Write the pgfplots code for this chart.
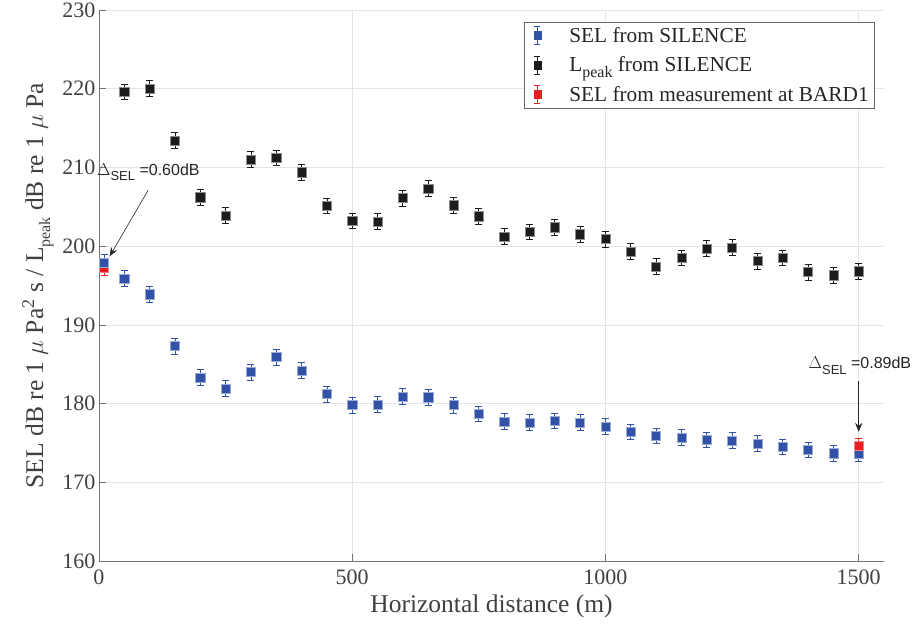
\documentclass[border=0pt]{standalone}
\usepackage{fontspec}
\setmainfont{Liberation Serif}
\newfontfamily\hv{Liberation Sans}
\usepackage{pgfplots}
\pgfplotsset{compat=1.18}
\usetikzlibrary{arrows.meta}
\definecolor{bluec}{RGB}{50,82,168}
\definecolor{blackc}{RGB}{28,28,28}
\definecolor{redc}{RGB}{236,28,36}
\definecolor{txt}{RGB}{64,64,64}
\definecolor{gridc}{RGB}{228,228,228}
\newcommand{\legimg}[1]{%
  \path[draw=none, fill=none] (0pt,-9pt) rectangle (39pt,9pt);
  \draw[#1, line width=0.8pt] (9pt,-9pt) -- (9pt,9pt);
  \draw[#1, line width=0.8pt] (6pt,-9pt) -- (12pt,-9pt);
  \draw[#1, line width=0.8pt] (6pt,9pt) -- (12pt,9pt);
  \fill[#1] (5.5pt,-4pt) rectangle (12.5pt,4pt);}
\newcommand{\subl}[1]{\raisebox{-0.6ex}{\fontsize{16}{16}\selectfont #1}}

\pgfplotstableread{
x y e
10 197.9 1.0
50 195.9 1.0
100 193.9 1.0
150 187.3 1.0
200 183.3 1.0
250 181.9 1.0
300 184.0 1.0
350 185.9 1.0
400 184.2 1.0
450 181.2 1.0
500 179.8 1.0
550 179.9 1.0
600 180.9 1.0
650 180.8 1.0
700 179.8 1.0
750 178.7 1.0
800 177.7 1.0
850 177.6 1.0
900 177.8 1.0
950 177.6 1.0
1000 177.1 1.0
1050 176.4 1.0
1100 175.9 1.0
1150 175.7 1.0
1200 175.4 1.0
1250 175.3 1.0
1300 174.9 1.0
1350 174.5 1.0
1400 174.1 1.0
1450 173.7 1.0
1500 173.7 1.0
}\seltable

\pgfplotstableread{
x y e
50 219.6 1.0
100 220.0 1.0
150 213.4 1.0
200 206.2 1.0
250 203.9 1.0
300 211.0 1.0
350 211.2 1.0
400 209.4 1.0
450 205.1 1.0
500 203.2 1.0
550 203.1 1.0
600 206.1 1.0
650 207.3 1.0
700 205.2 1.0
750 203.8 1.0
800 201.2 1.0
850 201.8 1.0
900 202.4 1.0
950 201.5 1.0
1000 200.9 1.0
1050 199.3 1.0
1100 197.4 1.0
1150 198.5 1.0
1200 199.7 1.0
1250 199.8 1.0
1300 198.1 1.0
1350 198.5 1.0
1400 196.7 1.0
1450 196.3 1.0
1500 196.8 1.0
}\lpktable

\pgfplotstableread{
x y e
10 197.3 1.0
}\redA

\pgfplotstableread{
x y e
1500 174.6 1.0
}\redB

\begin{document}
\begin{tikzpicture}
\begin{axis}[
  scale only axis,
  width=785pt, height=551pt,
  xmin=0, xmax=1550, ymin=160, ymax=230,
  xtick={0,500,1000,1500},
  ytick={160,170,...,230},
  axis lines=left,
  axis line style={-, draw=black!55, line width=0.7pt},
  tick style={draw=black!55, line width=0.7pt},
  major tick length=7pt,
  tick align=inside,
  grid=major,
  major grid style={draw=gridc, line width=0.7pt},
  /pgf/number format/assume math mode=true,
  /pgf/number format/1000 sep={},
  tick label style={font=\fontsize{22}{24}\selectfont, text=txt},
  xticklabel style={yshift=-5pt},
  label style={font=\fontsize{25.5}{28}\selectfont, text=txt},
  xlabel={Horizontal distance (m)},
  ylabel={SEL dB re 1 $\mu$ Pa\textsuperscript{2} s / L\subl{peak} dB re 1 $\mu$ Pa},
  xlabel style={yshift=-4pt},
  ylabel style={yshift=2pt},
  clip=false,
  legend style={at={(0.9885,0.978)}, anchor=north east, draw=black!60,
    line width=0.6pt, font=\fontsize{21.3}{25}\selectfont, text=black!85,
    inner xsep=4pt, inner ysep=3pt, row sep=9pt},
  legend cell align=left,
  error bars/y dir=both, error bars/y explicit,
]
% red point at 10 m (drawn beneath blue)
\addplot+[forget plot, only marks, mark=square*, mark size=4.6pt,
  mark options={fill=redc, draw=redc!55!white, line width=0.5pt},
  error bars/error bar style={draw=redc, line width=0.8pt},
  error bars/error mark options={draw=redc, rotate=90, mark size=3.5pt, line width=0.8pt}]
  table[x=x, y=y, y error=e] {\redA};
\addplot+[only marks, mark=square*, mark size=4.6pt,
  mark options={fill=bluec, draw=bluec!50!white, line width=0.5pt},
  error bars/error bar style={draw=bluec, line width=0.8pt},
  error bars/error mark options={draw=bluec, rotate=90, mark size=3.5pt, line width=0.8pt},
  legend image code/.code={\legimg{bluec}}]
  table[x=x, y=y, y error=e] {\seltable};
\addlegendentry{SEL from SILENCE}
\addplot+[only marks, mark=square*, mark size=4.6pt,
  mark options={fill=blackc, draw=black!45, line width=0.5pt},
  error bars/error bar style={draw=blackc, line width=0.8pt},
  error bars/error mark options={draw=blackc, rotate=90, mark size=3.5pt, line width=0.8pt},
  legend image code/.code={\legimg{blackc}}]
  table[x=x, y=y, y error=e] {\lpktable};
\addlegendentry{L\subl{peak} from SILENCE}
\addplot+[only marks, mark=square*, mark size=4.6pt,
  mark options={fill=redc, draw=redc!55!white, line width=0.5pt},
  error bars/error bar style={draw=redc, line width=0.8pt},
  error bars/error mark options={draw=redc, rotate=90, mark size=3.5pt, line width=0.8pt},
  legend image code/.code={\legimg{redc}}]
  table[x=x, y=y, y error=e] {\redB};
\addlegendentry{SEL from measurement at BARD1}
% annotations
\node[anchor=west, inner sep=0pt, font=\hv\fontsize{16}{18}\selectfont, text=black!85]
  at (axis cs:-4,209.4) {$\Delta$\raisebox{-0.7ex}{\fontsize{13}{13}\selectfont SEL} =0.60dB};
\draw[-{Stealth[length=9pt,width=7pt]}, line width=0.6pt, black!85]
  (axis cs:97,207.1) -- (axis cs:21,198.7);
\node[anchor=west, inner sep=0pt, font=\hv\fontsize{16}{18}\selectfont, text=black!85]
  at (axis cs:1401,184.8) {$\Delta$\raisebox{-0.7ex}{\fontsize{13}{13}\selectfont SEL} =0.89dB};
\draw[-{Stealth[length=9pt,width=7pt]}, line width=0.6pt, black!85]
  (axis cs:1500,182.9) -- (axis cs:1500,176.4);
\end{axis}
\pgfresetboundingbox
\path (-99pt,-72pt) rectangle (817pt,561pt);
\end{tikzpicture}
\end{document}
